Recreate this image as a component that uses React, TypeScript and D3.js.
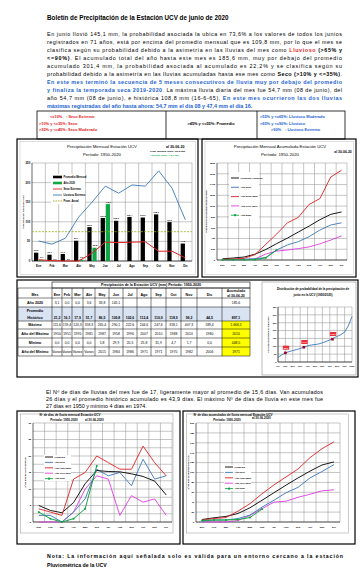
import React from 'react';
import * as d3 from 'd3';

// ---------- DATA ----------
const MESES = ['Ene', 'Feb', 'Mar', 'Abr', 'May', 'Jun', 'Jul', 'Ago', 'Sep', 'Oct', 'Nov', 'Dic'];

// Precipitación mensual (mm)
const PROM_MENSUAL = [21.2, 16.1, 17.9, 51.7, 86.5, 109.8, 102.6, 112.4, 110.9, 118.9, 99.2, 44.5];
const ANIO_2020 = [3.1, 0.0, 0.0, 3.6, 33.8, 145.1];
const SECO_EXTREMO = [3, 1, 0, 0, 20, 48, 47, 48, 49, 25, 25, 8];
const LLUVIOSO_EXTREMO = [51, 43, 58, 112, 150, 191, 173, 194, 191, 230, 186, 105];
const PROM_ANUAL = 74.8;

// Precipitación acumulada (mm)
const ACUM_PROM = [21.2, 37.3, 55.2, 106.9, 193.4, 303.2, 405.8, 518.2, 629.1, 748.0, 847.2, 891.7];
const ACUM_2019 = [12, 14, 16, 22, 45, 185, 280, 340, 433, 556, 650, 690];
const ACUM_2010 = [10, 20, 30, 100, 290, 480, 690, 790, 1030, 1140, 1540, 1666.5];
const ACUM_1971 = [2, 4, 5, 20, 110, 165, 185, 211, 243, 300, 370, 448.5];
const ACUM_2020 = [3.1, 3.1, 3.1, 6.7, 40.5, 185.6];

// Tabla
const TABLA_2020 = [3.1, 0.0, 0.0, 3.6, 33.8, 145.1];
const TABLA_2020_ACUM = 185.6;
const TABLA_PROM = [21.2, 16.1, 17.9, 51.7, 86.5, 109.8, 102.6, 112.4, 110.9, 118.9, 99.2, 44.5];
const TABLA_PROM_ACUM = 897.1;
const TABLA_MAX = [111.6, 159.4, 120.3, 318.3, 265.4, 290.1, 222.6, 244.6, 247.6, 318.1, 407.3, 189.4];
const TABLA_MAX_ACUM = '1.666,5';
const TABLA_ANIO_MAX = ['1950', '1951', '1995', '1981', '1987', '1958', '1996', '2007', '2010', '1988', '2010', '1980', '2010'];
const TABLA_MIN = [0.0, 0.0, 0.0, 0.0, 5.8, 29.9, 20.5, 25.8, 31.9, 4.7, 1.7, 0.0];
const TABLA_MIN_ACUM = 448.5;
const TABLA_ANIO_MIN = ['Varios', 'Varios', 'Varios', 'Varios', '2015', '1984', '1986', '1971', '1971', '1970', '1982', '2006', '1971'];

// Distribución de probabilidad junio
const PROB_P = [0, 0.05, 0.1, 0.15, 0.2, 0.25, 0.3, 0.35, 0.4, 0.45, 0.5, 0.55, 0.6, 0.65, 0.7, 0.75, 0.8, 0.85, 0.9, 0.95, 1];
const PROB_V = [30, 45, 58, 66, 73, 79, 86, 94, 103, 108, 111, 115, 122, 131, 140, 152, 163, 174, 190, 230, 290.1];
const PROB_MARK_P = [0.1, 0.35, 0.736];
const PROB_MARK_V = [58, 94, 145.1];
const PROB_TICKS = ['0%', '10%', '20%', '30%', '40%', '50%', '60%', '70%', '80%', '90%', '100%'];

// Nº de días de lluvia
const DIAS_PROM = [5, 3.5, 2.8, 5.9, 11.6, 15.6, 15.3, 15.2, 14.6, 13.8, 12.4, 8.2];
const DIAS_2019 = [2, 2, 0, 3, 7, 16, 14, 15, 11, 19, 13, 14];
const DIAS_1950 = [4, 3, 2, 13, 15, 20, 18, 16, 16, 23, 18, 14];
const DIAS_1971 = [0, 0, 0, 3, 10, 14, 13, 2, 8, 6, 7, 2];
const DIAS_2020 = [3, 1, 0, 1, 4, 17];

const DIAS_ACUM_PROM = [5, 8.5, 11.3, 17.2, 28.8, 43.9, 59.2, 74.4, 89, 102.8, 115.2, 121.4];
const DIAS_ACUM_2019 = [2, 4, 4, 7, 14, 30, 44, 59, 70, 89, 102, 116];
const DIAS_ACUM_1950 = [4, 7, 9, 22, 37, 57, 75, 91, 107, 130, 148, 162];
const DIAS_ACUM_1971 = [0, 0, 0, 3, 13, 27, 40, 42, 50, 56, 63, 65];
const DIAS_ACUM_2020 = [3, 4, 4, 5, 9, 26];

// ---------- STYLE ----------
const FONT = "'Liberation Sans', Arial, Helvetica, sans-serif";
const NARROW = "'Liberation Sans Narrow', 'Liberation Sans', Arial, sans-serif";
const BLUE_TXT = '#2463d1';
const RED_TXT = '#e3241c';
const C_BLUE = '#3b78b8';
const C_RED = '#e02020';
const C_MAG = '#e03ce0';
const C_GREEN = '#10a846';
const C_OLIVE = '#9aad1a';
const GRID = '#8c8c8c';

const fmt = (v: number) => v.toFixed(1).replace('.', ',');

type Seg = { t: string; b?: boolean; c?: string };

const PARA1: Seg[][] = [
  [{ t: 'En junio llovió 145,1 mm, la probabilidad asociada la ubica en 73,6% a los valores de todos los junios' }],
  [{ t: 'registrados en 71 años, está por encima del promedio mensual que es 109,8 mm, por lo que el mes se' }],
  [{ t: 'clasifica según su probabilidad debido a la asimetría en las lluvias del mes como ' }, { t: 'Lluvioso', b: true, c: RED_TXT }, { t: ' (>65% y', b: true }],
  [{ t: '<=90%)', b: true }, { t: '. El acumulado total del año hasta este mes es 185,6 mm, muy por debajo del promedio' }],
  [{ t: 'acumulado 301,4 mm, la probabilidad asociada al acumulado es 22,2% y se clasifica según su' }],
  [{ t: 'probabilidad debido a la asimetría en las lluvias acumuladas hasta ese mes como ' }, { t: 'Seco (>10% y <=35%)', b: true }, { t: '.' }],
  [{ t: 'En este mes terminó la secuencia de 5 meses consecutivos de lluvia muy por debajo del promedio', b: true, c: BLUE_TXT }],
  [{ t: 'y finaliza la temporada seca 2019-2020', b: true, c: BLUE_TXT }, { t: '. La máxima lluvia diaria del mes fue 54,7 mm (08 de junio), del' }],
  [{ t: 'año 54,7 mm (08 de junio), e histórica 108,8 mm (16-6-65), ' }, { t: 'En este mes ocurrieron las dos lluvias', b: true, c: BLUE_TXT }],
  [{ t: 'máximas registradas del año hasta ahora: 54,7 mm el día 08 y 47,4 mm el día 16.', b: true, c: BLUE_TXT }],
];

const PARA2: Seg[][] = [
  [{ t: 'El Nº de días de lluvias del mes fue de 17, ligeramente mayor al promedio de 15,6 días. Van acumulados' }],
  [{ t: '26 días y el promedio histórico acumulado es 43,9 días. El máximo Nº de días de lluvia en este mes fue' }],
  [{ t: '27 días en 1950 y mínimo 4 días en 1974.' }],
];

const NOTA: Seg[][] = [
  [{ t: 'Nota: La información aquí señalada solo es válida para un entorno cercano a la estación', b: true }],
  [{ t: 'Pluviométrica de la UCV', b: true }],
];

function Para({ lines, x, y0, dy, width, size }: { lines: Seg[][]; x: number; y0: number; dy: number; width: number; size: number }) {
  return (
    <g>
      {lines.map((segs, i) => {
        const last = i === lines.length - 1;
        const extra: any = last ? {} : { textLength: width, lengthAdjust: 'spacing' };
        return (
          <text key={i} x={x} y={y0 + i * dy} fontSize={size} fontFamily={FONT} style={{ whiteSpace: 'pre' }} {...extra}>
            {segs.map((s, j) => (
              <tspan key={j} fontWeight={s.b ? 'bold' : 'normal'} fill={s.c || '#000'}>{s.t}</tspan>
            ))}
          </text>
        );
      })}
    </g>
  );
}

function LegendBox() {
  const y0 = 111, y1 = 139;
  const xs = [37, 166, 257, 345];
  const rows = [118, 124.5, 131];
  const fs = 3.9;
  return (
    <g fontFamily={FONT} fontWeight="bold" fontSize={fs}>
      <rect x={xs[0]} y={y0} width={xs[3] - xs[0]} height={y1 - y0} fill="none" stroke="#000" strokeWidth={0.8} />
      <line x1={xs[1]} x2={xs[1]} y1={y0} y2={y1} stroke="#000" strokeWidth={0.8} />
      <line x1={xs[2]} x2={xs[2]} y1={y0} y2={y1} stroke="#000" strokeWidth={0.8} />
      <text x={50} y={rows[0]} fill={RED_TXT}>{'<=10%'}</text>
      <text x={66} y={rows[0]} fill={RED_TXT}>{': Seco Extremo'}</text>
      <text x={39} y={rows[1]} fill={RED_TXT}>{'>10% y <=35%: Seco'}</text>
      <text x={39} y={rows[2]} fill={RED_TXT}>{'>35% y <=45%: Seco Moderado'}</text>
      <text x={211} y={rows[1]} textAnchor="middle" fill="#000">{'>45% y <=55%:  Promedio'}</text>
      <text x={260} y={rows[0]} fill={BLUE_TXT}>{'>55% y <=65%: Lluvioso Moderado'}</text>
      <text x={260} y={rows[1]} fill={BLUE_TXT}>{'>65% y <=90%: Lluvioso'}</text>
      <text x={271} y={rows[2]} fill={BLUE_TXT}>{'>90%'}</text>
      <text x={285} y={rows[2]} fill={BLUE_TXT}>{': Lluvioso Extremo'}</text>
    </g>
  );
}

type PlotProps = {
  x0: number; x1: number; y0: number; y1: number; ymax: number; labelStep: number; gridStep: number;
  fs?: number; ylabel: string; ylabelX: number;
  render: (cx: (i: number) => number, y: d3.ScaleLinear<number, number>, bw: number) => React.ReactNode;
};

function Plot({ x0, x1, y0, y1, ymax, labelStep, gridStep, fs = 2.8, ylabel, ylabelX, render }: PlotProps) {
  const xb = d3.scaleBand<string>().domain(MESES).range([x0, x1]);
  const bw = xb.bandwidth();
  const cx = (i: number) => (xb(MESES[i]) as number) + bw / 2;
  const y = d3.scaleLinear().domain([0, ymax]).range([y1, y0]);
  const gridVals = d3.range(0, ymax + 1e-9, gridStep);
  const labelVals = d3.range(0, ymax + 1e-9, labelStep);
  return (
    <g fontFamily={NARROW}>
      {gridVals.map((v) => (
        <line key={'h' + v} x1={x0} x2={x1} y1={y(v)} y2={y(v)} stroke={GRID} strokeWidth={0.5} />
      ))}
      {MESES.map((m) => (
        <line key={'v' + m} x1={(xb(m) as number) + bw} x2={(xb(m) as number) + bw} y1={y0} y2={y1} stroke={GRID} strokeWidth={0.5} />
      ))}
      <line x1={x0} x2={x0} y1={y0} y2={y1} stroke="#000" strokeWidth={0.6} />
      <line x1={x0} x2={x1} y1={y1} y2={y1} stroke="#000" strokeWidth={0.6} />
      {labelVals.map((v) => (
        <text key={'l' + v} x={x0 - 1.8} y={y(v) + fs * 0.35} fontSize={fs} textAnchor="end" fontWeight="bold">{v}</text>
      ))}
      {MESES.map((m, i) => (
        <text key={'x' + m} x={cx(i)} y={y1 + 5.5} fontSize={fs} textAnchor="middle" fontWeight="bold">{m}</text>
      ))}
      <text transform={`translate(${ylabelX},${(y0 + y1) / 2}) rotate(-90)`} fontSize={fs * 0.9} textAnchor="middle" fontWeight="bold">{ylabel}</text>
      {render(cx, y, bw)}
    </g>
  );
}

function pathFor(vals: number[], cx: (i: number) => number, y: d3.ScaleLinear<number, number>) {
  return d3.line<number>().x((_, i) => cx(i)).y((d) => y(d))(vals) || '';
}

type LegItem = { label: string; color: string; kind: 'bar' | 'line' | 'dash' | 'marker' };

function Legend({ x, y, dy, items, fs = 2.6, sw = 8 }: { x: number; y: number; dy: number; items: LegItem[]; fs?: number; sw?: number }) {
  return (
    <g fontFamily={NARROW} fontSize={fs} fontWeight="bold">
      {items.map((it, i) => {
        const yy = y + i * dy;
        return (
          <g key={it.label}>
            {it.kind === 'bar' && <rect x={x} y={yy - 1.3} width={sw} height={2.6} fill={it.color} />}
            {it.kind === 'line' && <line x1={x} x2={x + sw} y1={yy} y2={yy} stroke={it.color} strokeWidth={0.9} />}
            {it.kind === 'dash' && <line x1={x} x2={x + sw} y1={yy} y2={yy} stroke={it.color} strokeWidth={0.9} strokeDasharray="1.5,1" />}
            {it.kind === 'marker' && (
              <g>
                <line x1={x} x2={x + sw} y1={yy} y2={yy} stroke={it.color} strokeWidth={0.9} />
                <rect x={x + sw / 2 - 1} y={yy - 1} width={2} height={2} fill={it.color} />
              </g>
            )}
            <text x={x + sw + 1.5} y={yy + fs * 0.35}>{it.label}</text>
          </g>
        );
      })}
    </g>
  );
}

function Markers({ vals, cx, y, color }: { vals: number[]; cx: (i: number) => number; y: d3.ScaleLinear<number, number>; color: string }) {
  return (
    <g>
      {vals.map((v, i) => (
        <rect key={i} x={cx(i) - 0.9} y={y(v) - 0.9} width={1.8} height={1.8} fill={color} />
      ))}
    </g>
  );
}

function MonthlyChart() {
  return (
    <g>
      <rect x={17} y={139} width={181} height={138} fill="none" stroke="#000" strokeWidth={1.2} />
      <rect x={20} y={141.5} width={175.5} height={133} fill="none" stroke="#b0b0b0" strokeWidth={0.4} />
      <g fontFamily={NARROW}>
        <text x={102} y={147.5} fontSize={4.3} textAnchor="middle">Precipitación Mensual Estación UCV</text>
        <text x={102} y={156} fontSize={4.3} textAnchor="middle">Período: 1950-2020</text>
        <text x={166} y={147.5} fontSize={3.6} fontWeight="bold">al 30-06-20</text>
        <text x={150} y={151.8} fontSize={2.3} fontWeight="bold">Prom. Mensual Junio: 109,8 mm</text>
        <text x={150} y={156} fontSize={2.3} fontWeight="bold" fill={C_GREEN}>Año 2020 Junio: 145,1 mm</text>
      </g>
      <Plot x0={32} x1={192} y0={163} y1={261} ymax={250} labelStep={50} gridStep={50}
        ylabel="Precipitación mensual (mm)" ylabelX={24}
        render={(cx, y, bw) => {
          const w = bw * 0.32;
          return (
            <g>
              {PROM_MENSUAL.map((v, i) => (
                <g key={'b' + i}>
                  <rect x={cx(i) - w - 0.4} y={y(v)} width={w} height={y(0) - y(v)} fill="#000" />
                  <text x={cx(i) - w / 2 - 0.4} y={y(v) - 1.3} fontSize={2.3} textAnchor="middle" fontWeight="bold">{fmt(v)}</text>
                </g>
              ))}
              {ANIO_2020.map((v, i) => (
                <g key={'g' + i}>
                  <rect x={cx(i) + 0.4} y={y(v)} width={w} height={y(0) - y(v)} fill={C_GREEN} />
                  <text x={cx(i) + w / 2 + 0.8} y={y(v) - 1.3} fontSize={2.3} textAnchor="middle" fontWeight="bold">{fmt(v)}</text>
                </g>
              ))}
              <line x1={32} x2={192} y1={y(PROM_ANUAL)} y2={y(PROM_ANUAL)} stroke={C_OLIVE} strokeWidth={0.8} strokeDasharray="2,1.3" />
              <path d={pathFor(SECO_EXTREMO, cx, y)} fill="none" stroke={C_RED} strokeWidth={1} />
              <path d={pathFor(LLUVIOSO_EXTREMO, cx, y)} fill="none" stroke={C_BLUE} strokeWidth={0.9} />
            </g>
          );
        }} />
      <rect x={51} y={174} width={34} height={30} fill="#fff" />
      <Legend x={53} y={177} dy={6} sw={9} items={[
        { label: 'Promedio Mensual', color: '#000', kind: 'bar' },
        { label: 'Año 2020', color: C_GREEN, kind: 'bar' },
        { label: 'Seco Extremo', color: C_RED, kind: 'line' },
        { label: 'Lluvioso Extremo', color: C_BLUE, kind: 'line' },
        { label: 'Prom. Anual', color: C_OLIVE, kind: 'dash' },
      ]} />
    </g>
  );
}

function AccumChart() {
  return (
    <g>
      <rect x={202} y={139} width={154} height={138} fill="none" stroke="#000" strokeWidth={1.2} />
      <rect x={205} y={141.5} width={148.5} height={133} fill="none" stroke="#b0b0b0" strokeWidth={0.4} />
      <g fontFamily={NARROW}>
        <text x={280} y={147.5} fontSize={4.3} textAnchor="middle">Precipitación Mensual Acumulada Estación UCV</text>
        <text x={280} y={156} fontSize={4.3} textAnchor="middle">Período: 1950-2020</text>
        <text x={343} y={152.5} fontSize={3.4} fontWeight="bold" textAnchor="middle">al 30-06-20</text>
      </g>
      <Plot x0={217} x1={347} y0={163} y1={260} ymax={1800} labelStep={200} gridStep={200} fs={2.5}
        ylabel="Precipitación acumulada mensual (mm)" ylabelX={207}
        render={(cx, y) => (
          <g>
            <path d={pathFor(ACUM_1971, cx, y)} fill="none" stroke={C_MAG} strokeWidth={0.9} />
            <path d={pathFor(ACUM_2019, cx, y)} fill="none" stroke={C_BLUE} strokeWidth={0.9} />
            <path d={pathFor(ACUM_PROM, cx, y)} fill="none" stroke="#000" strokeWidth={0.9} />
            <path d={pathFor(ACUM_2010, cx, y)} fill="none" stroke={C_RED} strokeWidth={0.9} />
            <path d={pathFor(ACUM_2020, cx, y)} fill="none" stroke={C_GREEN} strokeWidth={1} />
            <Markers vals={ACUM_2020} cx={cx} y={y} color={C_GREEN} />
          </g>
        )} />
      <rect x={229} y={172} width={30} height={47} fill="#fff" />
      <Legend x={231} y={178} dy={9.3} sw={8} fs={2.4} items={[
        { label: 'Promedio Histórico', color: '#000', kind: 'line' },
        { label: 'Año 2019', color: C_BLUE, kind: 'line' },
        { label: 'Año 2010 (Máx)', color: C_RED, kind: 'line' },
        { label: 'Año 1971 (Mín)', color: C_MAG, kind: 'line' },
        { label: 'Año 2020', color: C_GREEN, kind: 'marker' },
      ]} />
    </g>
  );
}

function TableBlock() {
  const COLS = [18, 52, 62, 72, 83, 95, 109, 123, 137, 151, 166, 181, 197, 222, 250];
  const ROWS = [282, 288, 298, 307, 321, 329, 338, 347, 356];
  const fsV = 3.4;
  const fsL = 3.6;
  const mid = (c: number) => (COLS[c] + COLS[c + 1]) / 2;
  const rowY = (r: number) => (ROWS[r] + ROWS[r + 1]) / 2 + 1.2;
  const rows: { label: string[]; cells: string[]; acum: string }[] = [
    { label: ['Año 2020'], cells: MESES.map((_, i) => (i < TABLA_2020.length ? fmt(TABLA_2020[i]) : '')), acum: fmt(TABLA_2020_ACUM) },
    { label: ['Promedio', 'Histórico'], cells: TABLA_PROM.map(fmt), acum: fmt(TABLA_PROM_ACUM) },
    { label: ['Máximo'], cells: TABLA_MAX.map(fmt), acum: TABLA_MAX_ACUM },
    { label: ['Año del Máximo'], cells: TABLA_ANIO_MAX.slice(0, 12), acum: TABLA_ANIO_MAX[12] },
    { label: ['Mínimo'], cells: TABLA_MIN.map(fmt), acum: fmt(TABLA_MIN_ACUM) },
    { label: ['Año del Mínimo'], cells: TABLA_ANIO_MIN.slice(0, 12), acum: TABLA_ANIO_MIN[12] },
  ];
  const x0 = COLS[0], x1 = COLS[COLS.length - 1];
  return (
    <g fontFamily={NARROW}>
      <rect x={17} y={280} width={341} height={97} fill="none" stroke="#000" strokeWidth={1.2} />
      <rect x={x0} y={ROWS[3]} width={x1 - x0} height={ROWS[4] - ROWS[3]} fill="#d9e3f1" />
      <rect x={COLS[13]} y={ROWS[4]} width={COLS[14] - COLS[13]} height={ROWS[8] - ROWS[4]} fill="#ffff00" />
      <rect x={COLS[1]} y={ROWS[0]} width={x1 - COLS[1]} height={ROWS[1] - ROWS[0]} fill="none" stroke="#000" strokeWidth={0.6} />
      <text x={(COLS[1] + x1) / 2} y={rowY(0)} fontSize={fsL} fontWeight="bold" textAnchor="middle">Precipitación de la Estación UCV (mm)   Período: 1950-2020</text>
      {ROWS.slice(1).map((ry, i) => (
        <line key={'r' + i} x1={x0} x2={x1} y1={ry} y2={ry} stroke="#000" strokeWidth={0.5} />
      ))}
      {COLS.map((cxv, i) => (
        <line key={'c' + i} x1={cxv} x2={cxv} y1={ROWS[1]} y2={ROWS[8]} stroke="#000" strokeWidth={0.5} />
      ))}
      <text x={mid(0)} y={rowY(1) + 1.5} fontSize={fsL} fontWeight="bold" textAnchor="middle">Mes</text>
      {MESES.map((m, i) => (
        <text key={m} x={mid(i + 1)} y={rowY(1) + 1.5} fontSize={fsL} fontWeight="bold" textAnchor="middle">{m}</text>
      ))}
      <text x={mid(13)} y={ROWS[1] + 4.2} fontSize={fsL - 0.2} fontWeight="bold" textAnchor="middle">Acumulado</text>
      <text x={mid(13)} y={ROWS[1] + 8.6} fontSize={fsL - 0.2} fontWeight="bold" textAnchor="middle">al 30-06-20</text>
      {rows.map((r, ri) => {
        const R = ri + 2;
        const yy = r.label.length > 1 ? ROWS[R + 1] - 2 : rowY(R);
        return (
          <g key={ri}>
            {r.label.length > 1 ? (
              <g>
                <text x={mid(0)} y={ROWS[R] + 4.8} fontSize={fsL} fontWeight="bold" textAnchor="middle">{r.label[0]}</text>
                <text x={mid(0)} y={ROWS[R + 1] - 2} fontSize={fsL} fontWeight="bold" textAnchor="middle">{r.label[1]}</text>
              </g>
            ) : (
              <text x={mid(0)} y={yy} fontSize={fsL} fontWeight="bold" textAnchor="middle">{r.label[0]}</text>
            )}
            {r.cells.map((c, ci) => (
              <text key={ci} x={mid(ci + 1)} y={yy} fontSize={fsV} textAnchor="middle" fontWeight={ri === 1 ? 'bold' : 'normal'}>{c}</text>
            ))}
            <text x={mid(13)} y={yy} fontSize={fsV} textAnchor="middle" fontWeight={ri === 1 ? 'bold' : 'normal'}>{r.acum}</text>
          </g>
        );
      })}
    </g>
  );
}

function ProbChart() {
  const X0 = 278, X1 = 352, Y0 = 307, Y1 = 362;
  const x = d3.scaleLinear().domain([0, 1]).range([X0, X1]);
  const y = d3.scaleLinear().domain([0, 350]).range([Y1, Y0]);
  const line = d3.line<number>().x((_, i) => x(PROB_P[i])).y((d) => y(d));
  return (
    <g fontFamily={NARROW}>
      <rect x={262} y={282} width={94} height={93} fill="none" stroke="#777" strokeWidth={0.5} />
      <text x={313} y={290} fontSize={3} fontWeight="bold" textAnchor="middle">Distribución de probabilidad de la precipitación de</text>
      <text x={313} y={295.5} fontSize={3} fontWeight="bold" textAnchor="middle">junio en la UCV (1950/2020)</text>
      {d3.range(0, 351, 50).map((v) => (
        <g key={'h' + v}>
          <line x1={X0} x2={X1} y1={y(v)} y2={y(v)} stroke={GRID} strokeWidth={0.5} />
          <text x={X0 - 1.5} y={y(v) + 0.8} fontSize={2.2} textAnchor="end" fontWeight="bold">{v}</text>
        </g>
      ))}
      {PROB_TICKS.map((t, i) => (
        <g key={t}>
          <line x1={x(i / 10)} x2={x(i / 10)} y1={Y0} y2={Y1} stroke={GRID} strokeWidth={0.5} />
          <text x={x(i / 10)} y={Y1 + 5} fontSize={2.1} textAnchor="middle" fontWeight="bold">{t}</text>
        </g>
      ))}
      <line x1={X0} x2={X0} y1={Y0} y2={Y1} stroke="#000" strokeWidth={0.6} />
      <line x1={X0} x2={X1} y1={Y1} y2={Y1} stroke="#000" strokeWidth={0.6} />
      <text transform={`translate(268.5,${(Y0 + Y1) / 2}) rotate(-90)`} fontSize={2.1} textAnchor="middle" fontWeight="bold">Precipitación mensual de junio (mm)</text>
      <path d={line(PROB_V) || ''} fill="none" stroke={C_BLUE} strokeWidth={0.9} />
      {PROB_MARK_P.map((p, i) => (
        <g key={'m' + i}>
          <rect x={x(p) - 1.3} y={y(PROB_MARK_V[i]) - 1.3} width={2.6} height={2.6} fill="#a00020" />
          <rect x={x(p) - 2.6} y={y(PROB_MARK_V[i]) - 7.2} width={6.4} height={4} fill="#e8303a" />
          <text x={x(p) + 0.6} y={y(PROB_MARK_V[i]) - 4.2} fontSize={2.2} textAnchor="middle" fill="#fff" fontWeight="bold">{fmt(PROB_MARK_V[i])}</text>
        </g>
      ))}
    </g>
  );
}

function DaysChart() {
  return (
    <g>
      <rect x={17} y={411} width={163} height={133} fill="none" stroke="#000" strokeWidth={1.2} />
      <rect x={20.5} y={414} width={152.5} height={119} fill="none" stroke="#a8a8a8" strokeWidth={0.6} />
      <g fontFamily={NARROW} fontWeight="bold">
        <text x={70} y={415.5} fontSize={3} textAnchor="middle">Nº de días de lluvia mensual Estación UCV</text>
        <text x={64} y={420.5} fontSize={3} textAnchor="middle">Período: 1950-2020</text>
        <text x={85} y={420.5} fontSize={3}>al 30-06-2020</text>
      </g>
      <Plot x0={33} x1={172} y0={423} y1={522} ymax={30} labelStep={5} gridStep={2.5} fs={2.5}
        ylabel="Nº de días de lluvia mensual" ylabelX={26}
        render={(cx, y) => (
          <g>
            <path d={pathFor(DIAS_1971, cx, y)} fill="none" stroke={C_MAG} strokeWidth={0.9} />
            <path d={pathFor(DIAS_2019, cx, y)} fill="none" stroke={C_BLUE} strokeWidth={0.9} />
            <path d={pathFor(DIAS_PROM, cx, y)} fill="none" stroke="#000" strokeWidth={0.9} />
            <path d={pathFor(DIAS_1950, cx, y)} fill="none" stroke={C_RED} strokeWidth={0.9} />
            <path d={pathFor(DIAS_2020, cx, y)} fill="none" stroke={C_GREEN} strokeWidth={1} />
            <Markers vals={DIAS_2020} cx={cx} y={y} color={C_GREEN} />
          </g>
        )} />
      <rect x={44} y={455} width={27} height={26} fill="#fff" />
      <Legend x={45} y={457} dy={5.4} sw={8} fs={2.3} items={[
        { label: 'Promedio', color: '#000', kind: 'line' },
        { label: 'Año 2019', color: C_BLUE, kind: 'line' },
        { label: 'Año 1950 (Máx)', color: C_RED, kind: 'line' },
        { label: 'Año 1971 (Mín)', color: C_MAG, kind: 'line' },
        { label: 'Año 2020', color: C_GREEN, kind: 'marker' },
      ]} />
    </g>
  );
}

function DaysAccumChart() {
  return (
    <g>
      <rect x={183} y={411} width={172} height={133} fill="none" stroke="#000" strokeWidth={1.2} />
      <rect x={186.5} y={414} width={162} height={119} fill="none" stroke="#a8a8a8" strokeWidth={0.6} />
      <g fontFamily={NARROW} fontWeight="bold">
        <text x={233} y={415.5} fontSize={3} textAnchor="middle">Nº de días acumulados de lluvia mensual Estación UCV</text>
        <text x={227} y={421} fontSize={3} textAnchor="middle">Período: 1950-2020</text>
        <text x={252} y={419} fontSize={3}>al 30-06-2020</text>
      </g>
      <Plot x0={196} x1={340} y0={423} y1={522} ymax={200} labelStep={20} gridStep={20} fs={2.5}
        ylabel="Nº de días acumulados de lluvia" ylabelX={189}
        render={(cx, y) => (
          <g>
            <path d={pathFor(DIAS_ACUM_1971, cx, y)} fill="none" stroke={C_MAG} strokeWidth={0.9} />
            <path d={pathFor(DIAS_ACUM_2019, cx, y)} fill="none" stroke={C_BLUE} strokeWidth={0.9} />
            <path d={pathFor(DIAS_ACUM_PROM, cx, y)} fill="none" stroke="#000" strokeWidth={0.9} />
            <path d={pathFor(DIAS_ACUM_1950, cx, y)} fill="none" stroke={C_RED} strokeWidth={0.9} />
            <path d={pathFor(DIAS_ACUM_2020, cx, y)} fill="none" stroke={C_GREEN} strokeWidth={1} />
            <Markers vals={DIAS_ACUM_2020} cx={cx} y={y} color={C_GREEN} />
          </g>
        )} />
      <rect x={224} y={465} width={27} height={26} fill="#fff" />
      <Legend x={225} y={467} dy={5.4} sw={8} fs={2.3} items={[
        { label: 'Promedio', color: '#000', kind: 'line' },
        { label: 'Año 2019', color: C_BLUE, kind: 'line' },
        { label: 'Año 1950 (Máx)', color: C_RED, kind: 'line' },
        { label: 'Año 1971 (Mín)', color: C_MAG, kind: 'line' },
        { label: 'Año 2020', color: C_GREEN, kind: 'marker' },
      ]} />
    </g>
  );
}

export default function App() {
  return (
    <svg width={361} height={585} viewBox="0 0 361 585"
      style={{ position: 'absolute', left: 0, top: 0, background: '#fff', display: 'block' }}>
      <rect x={0} y={0} width={361} height={585} fill="#fff" />
      <text x={47} y={20} fontSize={6.3} fontWeight="bold" fontFamily={FONT}>Boletín de Precipitación de la Estación UCV de junio de 2020</text>
      <Para lines={PARA1} x={47} y0={35.5} dy={8} width={295} size={5.4} />
      <LegendBox />
      <MonthlyChart />
      <AccumChart />
      <TableBlock />
      <ProbChart />
      <Para lines={PARA2} x={46} y0={393.5} dy={7.2} width={277} size={5.4} />
      <DaysChart />
      <DaysAccumChart />
      <Para lines={NOTA} x={47} y0={558} dy={8.6} width={296} size={5.2} />
    </svg>
  );
}
